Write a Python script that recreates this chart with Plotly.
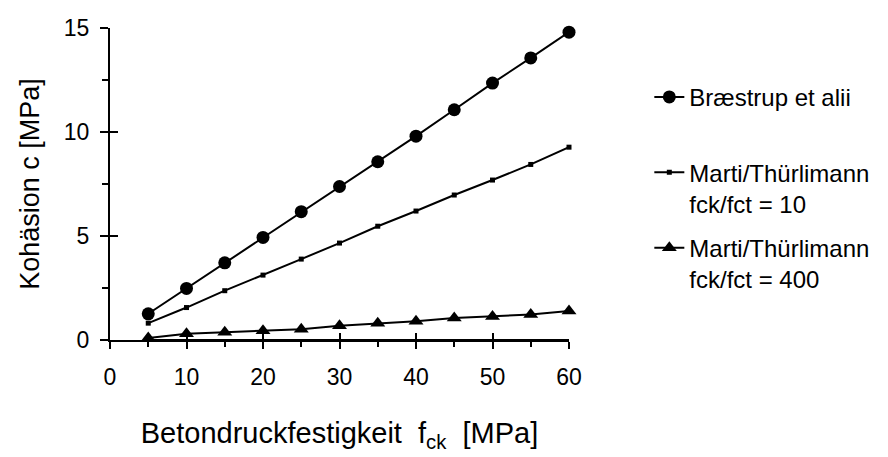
import plotly.graph_objects as go

fck = [5, 10, 15, 20, 25, 30, 35, 40, 45, 50, 55, 60]
braestrup = [1.26, 2.48, 3.71, 4.93, 6.17, 7.38, 8.57, 9.8, 11.07, 12.35, 13.56, 14.8]
marti_10 = [0.81, 1.56, 2.37, 3.12, 3.89, 4.66, 5.47, 6.2, 6.97, 7.69, 8.44, 9.27]
marti_400 = [0.1, 0.3, 0.37, 0.45, 0.52, 0.68, 0.8, 0.9, 1.06, 1.13, 1.22, 1.4]
base_zero = [0, 0, 0, 0, 0, 0, 0, 0, 0, 0, 0, 0]

names = ["Bræstrup et alii<br> ", "Marti/Thürlimann<br>fck/fct = 10", "Marti/Thürlimann<br>fck/fct = 400"]
y_ticks = [0, 5, 10, 15]
x_ticks = [0, 10, 20, 30, 40, 50, 60]

FONT = "Liberation Sans, Arial, sans-serif"
BLACK = "#000000"

fig = go.Figure()
fig.add_trace(go.Scatter(x=fck, y=braestrup, name=names[0], mode="lines+markers",
                         line=dict(color=BLACK, width=2),
                         marker=dict(symbol="circle", size=13, color=BLACK),
                         legendgroup="a", cliponaxis=False))
fig.add_trace(go.Scatter(x=fck, y=marti_10, name=names[1], mode="lines+markers",
                         line=dict(color=BLACK, width=2),
                         marker=dict(symbol="square", size=5, color=BLACK),
                         legendgroup="b", cliponaxis=False))
fig.add_trace(go.Scatter(x=fck, y=marti_400, name=names[2], mode="lines+markers",
                         line=dict(color=BLACK, width=2),
                         marker=dict(symbol="triangle-up", size=13, color=BLACK),
                         legendgroup="c", cliponaxis=False))
fig.add_trace(go.Scatter(x=fck, y=base_zero, mode="lines", showlegend=False,
                         line=dict(color=BLACK, width=2), xaxis="x2", yaxis="y2",
                         cliponaxis=False, hoverinfo="skip"))

fig.update_layout(
    width=888, height=457,
    margin=dict(l=110, r=319, t=28, b=117),
    paper_bgcolor="white", plot_bgcolor="white",
    font=dict(family=FONT, color=BLACK, size=23),
    showlegend=True,
    legend=dict(x=1.175, y=0.85, xanchor="left", yanchor="top",
                font=dict(family=FONT, size=24, color=BLACK),
                valign="top", tracegroupgap=10, bgcolor="rgba(0,0,0,0)"),
    xaxis=dict(range=[0, 60], tickvals=x_ticks, ticktext=[str(v) for v in x_ticks],
               showgrid=False, zeroline=False, showline=True, linecolor=BLACK, linewidth=2,
               ticks="outside", ticklen=7, tickwidth=2, tickcolor=BLACK,
               minor=dict(dtick=5, tick0=0, ticks="outside", ticklen=5, tickwidth=2, tickcolor=BLACK),
               tickfont=dict(size=23), ticklabelstandoff=8,
               title=dict(text="Betondruckfestigkeit  f<sub>ck</sub>  [MPa]",
                          font=dict(size=29), standoff=34)),
    yaxis=dict(range=[0, 15], tickvals=y_ticks, ticktext=[str(v) for v in y_ticks],
               showgrid=False, zeroline=False, showline=True, linecolor=BLACK, linewidth=2,
               ticks="outside", ticklen=8, tickwidth=2, tickcolor=BLACK,
               minor=dict(dtick=2.5, tick0=0, ticks="outside", ticklen=6, tickwidth=2, tickcolor=BLACK),
               tickfont=dict(size=23), ticklabelstandoff=6,
               title=dict(text="Kohäsion c [MPa]", font=dict(size=27), standoff=16)),
    xaxis2=dict(range=[0, 60], overlaying="x", anchor="y2", tickvals=x_ticks,
                showticklabels=False, showgrid=False, zeroline=False, showline=False,
                ticks="inside", ticklen=7, tickwidth=2, tickcolor=BLACK),
    yaxis2=dict(range=[0, 15], overlaying="y", anchor="x2", tickvals=y_ticks,
                showticklabels=False, showgrid=False, zeroline=False, showline=False,
                ticks="inside", ticklen=8, tickwidth=2, tickcolor=BLACK),
)

fig.write_html("out.html")
